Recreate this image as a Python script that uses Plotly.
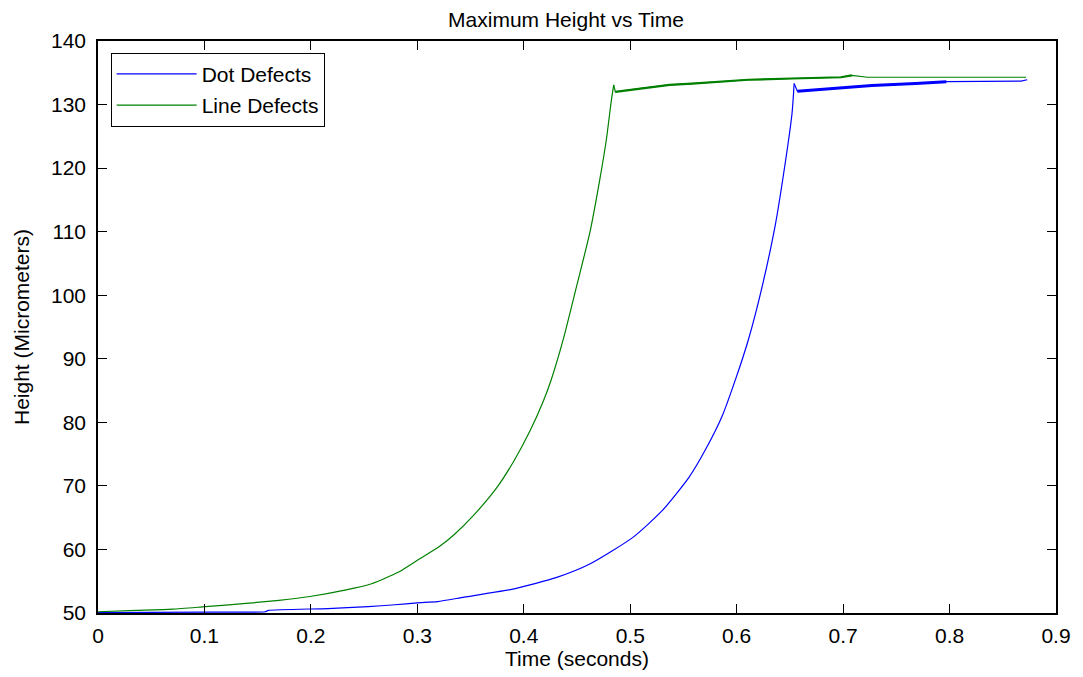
import plotly.graph_objects as go

# ---- data ----
dot_time = [0.000, 0.100, 0.157, 0.160, 0.216, 0.254, 0.279, 0.300, 0.319, 0.344,
            0.391, 0.431, 0.462, 0.5025, 0.530, 0.555, 0.571, 0.5864, 0.599, 0.611,
            0.624, 0.636, 0.644, 0.652, 0.654, 0.657, 0.680, 0.708, 0.727, 0.768,
            0.797, 0.867, 0.873]
dot_height = [50.05, 50.15, 50.2, 50.4, 50.7, 51.0, 51.3, 51.6, 51.8, 52.5,
              53.8, 55.6, 57.7, 61.9, 66.1, 71.3, 75.8, 81.0, 86.8, 93.0,
              101.4, 110.8, 119.0, 128.6, 133.3, 132.1, 132.4, 132.7, 133.0, 133.3,
              133.6, 133.7, 133.9]

line_time = [0.000, 0.036, 0.070, 0.101, 0.139, 0.170, 0.199, 0.232, 0.257, 0.282,
             0.300, 0.321, 0.335, 0.353, 0.375, 0.391, 0.406, 0.4185, 0.4254, 0.437,
             0.4496, 0.462, 0.4714, 0.4776, 0.4823, 0.4845, 0.486, 0.512, 0.537, 0.558,
             0.583, 0.611, 0.652, 0.698, 0.708, 0.723, 0.872]
line_height = [50.2, 50.4, 50.6, 51.0, 51.5, 52.0, 52.6, 53.6, 54.6, 56.4,
               58.3, 60.5, 62.4, 65.4, 69.8, 74.0, 78.7, 83.4, 86.5, 93.0,
               101.4, 109.8, 118.2, 124.5, 130.7, 133.1, 132.0, 132.6, 133.1, 133.3,
               133.6, 133.9, 134.1, 134.3, 134.6, 134.3, 134.3]

x_ticks = [0, 0.1, 0.2, 0.3, 0.4, 0.5, 0.6, 0.7, 0.8, 0.9]
x_tick_labels = ["0", "0.1", "0.2", "0.3", "0.4", "0.5", "0.6", "0.7", "0.8", "0.9"]
y_ticks = [50, 60, 70, 80, 90, 100, 110, 120, 130, 140]
y_tick_labels = [str(v) for v in y_ticks]

BLUE = "#0000FF"
GREEN = "#008000"
FONT = "Liberation Sans, Arial, Helvetica, sans-serif"
FS = 21

# rising parts drawn smooth, plateau parts linear
d_peak = dot_time.index(0.654)
l_peak = line_time.index(0.4845)

fig = go.Figure()
fig.add_trace(go.Scatter(x=dot_time[:d_peak + 1], y=dot_height[:d_peak + 1], mode="lines",
                         name="Dot Defects", line=dict(color=BLUE, width=1.2, shape="spline", smoothing=0.6),
                         legendgroup="a"))
fig.add_trace(go.Scatter(x=line_time[:l_peak + 1], y=line_height[:l_peak + 1], mode="lines",
                         name="Line Defects", line=dict(color=GREEN, width=1.2, shape="spline", smoothing=0.6),
                         legendgroup="b"))
fig.add_trace(go.Scatter(x=dot_time[d_peak:], y=dot_height[d_peak:], mode="lines",
                         line=dict(color=BLUE, width=1.2), showlegend=False, legendgroup="a",
                         hoverinfo="skip"))
fig.add_trace(go.Scatter(x=line_time[l_peak:], y=line_height[l_peak:], mode="lines",
                         line=dict(color=GREEN, width=1.2), showlegend=False, legendgroup="b",
                         hoverinfo="skip"))
# noisy plateau segments appear as thicker bands
i0 = dot_time.index(0.657)
i1 = dot_time.index(0.797)
fig.add_trace(go.Scatter(x=dot_time[i0:i1 + 1], y=dot_height[i0:i1 + 1], mode="lines",
                         line=dict(color=BLUE, width=3), showlegend=False, hoverinfo="skip"))
j0 = line_time.index(0.486)
j1 = line_time.index(0.708)
fig.add_trace(go.Scatter(x=line_time[j0:j1 + 1], y=line_height[j0:j1 + 1], mode="lines",
                         line=dict(color=GREEN, width=2.2), showlegend=False, hoverinfo="skip"))

axis_common = dict(showline=True, linecolor="black", linewidth=1.5, mirror="ticks",
                   ticks="inside", ticklen=9, tickwidth=1, tickcolor="black",
                   showgrid=False, zeroline=False,
                   tickfont=dict(family=FONT, size=FS, color="black"))

fig.update_xaxes(range=[0, 0.9], tickvals=x_ticks, ticktext=x_tick_labels,
                 title=dict(text="Time (seconds)", font=dict(family=FONT, size=FS, color="black"),
                            standoff=2),
                 ticklabelstandoff=3, **axis_common)
fig.update_yaxes(range=[50, 140], tickvals=y_ticks, ticktext=y_tick_labels,
                 title=dict(text="Height (Micrometers)", font=dict(family=FONT, size=FS, color="black"),
                            standoff=16),
                 ticklabelstandoff=6, **axis_common)

fig.update_layout(
    width=1083, height=677,
    margin=dict(l=98, r=20, t=41, b=64),
    paper_bgcolor="white", plot_bgcolor="white",
    title=dict(text="Maximum Height vs Time", x=0.5226, xref="container", xanchor="center",
               y=0.982, yref="container", yanchor="top",
               font=dict(family=FONT, size=FS, color="black")),
    legend=dict(x=0.0132, y=0.9795, xanchor="left", yanchor="top",
                bordercolor="black", borderwidth=1, bgcolor="white",
                font=dict(family=FONT, size=FS, color="black"),
                tracegroupgap=1, itemwidth=80, entrywidth=163, entrywidthmode="pixels"),
    showlegend=True,
)

fig.write_html("out.html")
